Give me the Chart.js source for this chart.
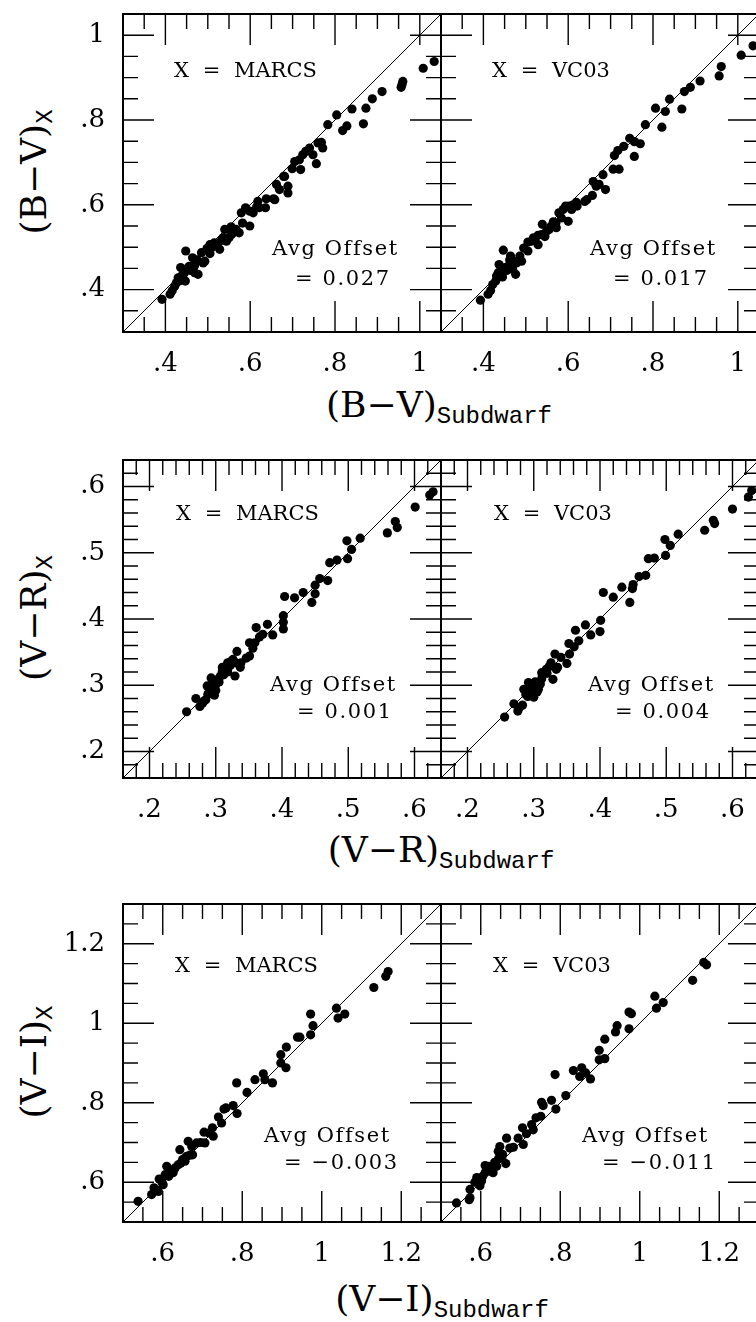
<!DOCTYPE html>
<html>
<head>
<meta charset="utf-8">
<script src="https://cdn.jsdelivr.net/npm/chart.js@4.4.0/dist/chart.umd.min.js"></script>
<style>
html, body { margin: 0; padding: 0; background: #fff; overflow: hidden; }
#fig { position: relative; width: 756px; height: 1322px; overflow: hidden; }
#fig canvas { position: absolute; }
.xt, .yt { position: absolute; font: 36px 'DejaVu Serif'; line-height: 1; white-space: nowrap; color: #000; }
.xt { transform: translateX(-50%); }
.yt { transform: translate(-50%, -50%) rotate(-90deg); }
.sub { font: 24px 'Liberation Mono'; position: relative; top: 6px; line-height: 0; }
</style>
</head>
<body>
<div id="fig">
  <div class="yt" style="left:34px; top:172px">(B&minus;V)<span class="sub">X</span></div>
  <div class="xt" style="left:439px; top:387px">(B&minus;V)<span class="sub">Subdwarf</span></div>
  <div class="yt" style="left:34px; top:618px">(V&minus;R)<span class="sub">X</span></div>
  <div class="xt" style="left:441px; top:832px">(V&minus;R)<span class="sub">Subdwarf</span></div>
  <div class="yt" style="left:34px; top:1062px">(V&minus;I)<span class="sub">X</span></div>
  <div class="xt" style="left:442px; top:1281px">(V&minus;I)<span class="sub">Subdwarf</span></div>
</div>
<script>
// model names (columns) and the average offsets printed in each panel
var models = ['MARCS', 'VC03'];
var avgOffsets = [[0.027, 0.017], [0.001, 0.004], [-0.003, -0.011]];

// axis ranges and labelled ticks for each colour index
var bvRange = [0.3, 1.05], bvTicks = [0.4, 0.6, 0.8, 1.0], bvMinor = 0.05;
var vrRange = [0.16, 0.64], vrTicks = [0.2, 0.3, 0.4, 0.5, 0.6], vrMinor = 0.02;
var viRange = [0.5, 1.3], viTicks = [0.6, 0.8, 1.0, 1.2], viMinor = 0.05;

// [subdwarf colour, synthetic colour]
var bvMarcs = [
  [.392,.377],[.411,.389],[.416,.397],[.422,.408],[.426,.416],[.432,.420],[.438,.432],[.442,.436],
  [.436,.452],[.447,.420],[.450,.448],[.456,.455],[.448,.491],[.464,.475],[.469,.440],[.477,.436],
  [.469,.457],[.485,.487],[.489,.463],[.493,.467],[.505,.506],[.509,.499],[.505,.485],[.520,.506],
  [.528,.495],[.532,.516],[.536,.522],[.540,.542],[.544,.514],[.550,.522],[.556,.530],[.561,.535],
  [.567,.542],[.574,.534],[.582,.557],[.579,.581],[.589,.593],[.599,.550],[.599,.585],[.607,.581],
  [.618,.608],[.621,.593],[.636,.593],[.638,.614],[.658,.612],[.662,.648],[.669,.636],[.679,.667],
  [.689,.644],[.689,.628],[.699,.685],[.705,.702],[.719,.683],[.716,.706],[.724,.718],[.731,.726],
  [.740,.734],[.748,.718],[.756,.697],[.760,.746],[.768,.747],[.771,.734],[.783,.789],[.804,.812],
  [.818,.775],[.828,.786],[.840,.826],[.867,.791],[.873,.828],[.888,.850],[.911,.867],[.956,.877],
  [.960,.891],[1.008,.922],[1.034,.938],
  [.430,.428],[.445,.440],[.460,.445],[.475,.470],[.498,.497],[.515,.510],[.555,.548],[.615,.595],
  [.655,.614],[.681,.667],[.958,.884]
];
var bvVc03 = [
  [.393,.375],[.411,.389],[.417,.398],[.422,.412],[.429,.420],[.431,.432],[.437,.459],[.443,.444],
  [.447,.493],[.451,.452],[.458,.455],[.464,.479],[.469,.448],[.476,.436],[.470,.467],[.478,.463],
  [.486,.479],[.490,.467],[.505,.512],[.513,.514],[.505,.491],[.521,.518],[.529,.506],[.529,.528],
  [.537,.530],[.539,.554],[.545,.525],[.549,.538],[.555,.542],[.560,.550],[.572,.546],[.571,.557],
  [.578,.581],[.584,.569],[.588,.589],[.594,.597],[.600,.561],[.602,.597],[.608,.589],[.619,.606],
  [.621,.597],[.639,.608],[.644,.612],[.657,.622],[.659,.655],[.666,.644],[.673,.648],[.688,.636],
  [.682,.671],[.706,.684],[.720,.684],[.709,.716],[.717,.728],[.731,.738],[.745,.757],[.756,.749],
  [.770,.744],[.756,.714],[.782,.789],[.806,.828],[.821,.783],[.829,.820],[.839,.849],[.868,.826],
  [.874,.867],[.888,.877],[.911,.892],[.956,.904],[.961,.926],[1.008,.953],[1.036,.975],
  [.435,.440],[.445,.430],[.455,.445],[.462,.470],[.495,.498],[.518,.522],[.565,.560],[.612,.600]
];
var vrMarcs = [
  [.256,.260],[.270,.280],[.276,.268],[.280,.273],[.285,.278],[.288,.286],[.287,.299],[.293,.311],
  [.293,.294],[.297,.304],[.300,.301],[.303,.309],[.307,.314],[.310,.321],[.310,.327],[.315,.326],
  [.318,.334],[.323,.336],[.326,.339],[.332,.351],[.329,.314],[.337,.327],[.338,.334],[.346,.341],
  [.351,.344],[.351,.364],[.356,.356],[.359,.364],[.361,.387],[.366,.373],[.371,.377],[.378,.392],
  [.386,.376],[.402,.395],[.402,.385],[.402,.405],[.404,.434],[.419,.432],[.432,.440],[.445,.425],
  [.450,.438],[.450,.451],[.457,.461],[.469,.458],[.472,.485],[.483,.489],[.499,.491],[.505,.505],
  [.498,.518],[.518,.522],[.559,.530],[.571,.547],[.574,.538],[.601,.569],[.623,.587],[.628,.592],
  [.290,.290],[.296,.298],[.300,.292],[.305,.305],[.312,.316],[.318,.320],[.322,.330],[.330,.334],
  [.298,.285],[.282,.276]
];
var vrVc03 = [
  [.256,.252],[.270,.272],[.276,.261],[.278,.266],[.283,.270],[.285,.294],[.291,.283],[.292,.304],
  [.295,.290],[.298,.296],[.301,.288],[.303,.299],[.307,.294],[.310,.302],[.312,.319],[.316,.319],
  [.319,.324],[.326,.334],[.329,.309],[.334,.324],[.332,.347],[.336,.327],[.341,.342],[.350,.333],
  [.354,.347],[.353,.363],[.361,.358],[.363,.383],[.368,.367],[.378,.391],[.386,.376],[.400,.381],
  [.401,.398],[.405,.440],[.420,.433],[.433,.448],[.445,.425],[.449,.446],[.450,.452],[.459,.464],
  [.469,.466],[.473,.491],[.482,.492],[.499,.496],[.506,.511],[.498,.520],[.518,.528],[.558,.534],
  [.571,.549],[.573,.544],[.600,.566],[.624,.584],[.629,.594],
  [.288,.286],[.296,.300],[.302,.305],[.305,.290],[.312,.310],[.320,.318],[.323,.328],[.300,.282]
];
var viMarcs = [
  [.538,.552],[.572,.569],[.578,.586],[.589,.577],[.591,.608],[.601,.594],[.606,.619],[.610,.640],
  [.618,.628],[.626,.624],[.631,.636],[.639,.644],[.643,.682],[.650,.657],[.656,.653],[.660,.665],
  [.664,.703],[.673,.690],[.675,.669],[.685,.699],[.704,.726],[.706,.699],[.717,.724],[.727,.716],
  [.725,.737],[.740,.764],[.748,.749],[.754,.784],[.759,.787],[.777,.793],[.787,.773],[.786,.850],
  [.812,.826],[.832,.858],[.853,.873],[.857,.858],[.876,.850],[.897,.900],[.897,.921],[.910,.888],
  [.911,.940],[.939,.965],[.945,.965],[.972,.971],[.972,1.023],[.978,.994],[1.037,1.038],[1.041,1.013],
  [1.058,1.023],[1.131,1.090],[1.161,1.118],[1.167,1.130],
  [.598,.600],[.615,.615],[.628,.632],[.645,.648],[.655,.660],[.668,.668],[.695,.700]
];
var viVc03 = [
  [.539,.548],[.571,.556],[.573,.561],[.573,.582],[.590,.612],[.598,.591],[.602,.603],[.611,.642],
  [.611,.624],[.623,.628],[.631,.624],[.640,.640],[.644,.678],[.648,.690],[.653,.661],[.663,.647],
  [.665,.711],[.673,.686],[.682,.688],[.694,.711],[.705,.737],[.707,.695],[.715,.722],[.728,.745],
  [.732,.732],[.739,.762],[.751,.766],[.753,.801],[.757,.793],[.778,.806],[.789,.784],[.787,.871],
  [.814,.818],[.833,.881],[.854,.888],[.849,.866],[.864,.875],[.876,.860],[.898,.908],[.898,.932],
  [.912,.911],[.912,.960],[.939,.978],[.943,.994],[.973,.986],[.973,1.028],[.979,1.024],[1.038,1.068],
  [1.042,1.038],[1.059,1.052],[1.133,1.108],[1.161,1.153],[1.168,1.147],
  [.585,.600],[.605,.615],[.620,.640],[.635,.650],[.655,.670],[.645,.660]
];

// layout of the figure, in page pixels
var PANEL = 318, AXIS_W = 123, AXIS_H = 60, PAD_T = 10, PAD_R = 10;
var rows = [
  { top: 14,  range: bvRange, ticks: bvTicks, minor: bvMinor, sets: [bvMarcs, bvVc03],
    text: { lx: 51, ly: 63, ax: 149, ay: 241, vx: 172, vy: 271 } },
  { top: 460, range: vrRange, ticks: vrTicks, minor: vrMinor, sets: [vrMarcs, vrVc03],
    text: { lx: 53, ly: 60, ax: 147, ay: 231, vx: 174, vy: 258 } },
  { top: 904, range: viRange, ticks: viTicks, minor: viMinor, sets: [viMarcs, viVc03],
    text: { lx: 52, ly: 68, ax: 141, ay: 238, vx: 161, vy: 265 } }
];

function tickLabel(v) {
  return String(+v.toFixed(2)).replace(/^0\./, '.');
}
function offsetLabel(v) {
  return '= ' + (v < 0 ? '\u2212' : '') + Math.abs(v).toFixed(3);
}

// box, inward tick marks on all four sides, and the panel annotations
var framePlugin = {
  id: 'frame',
  afterDraw: function (chart, args, o) {
    var ctx = chart.ctx, a = chart.chartArea;
    var sx = chart.scales.x, sy = chart.scales.y;
    ctx.save();
    ctx.strokeStyle = '#000';
    ctx.lineWidth = 1.4;
    var marks = function (len, vals) {
      vals.forEach(function (v) {
        var px = sx.getPixelForValue(v), py = sy.getPixelForValue(v);
        ctx.beginPath();
        ctx.moveTo(px, a.bottom); ctx.lineTo(px, a.bottom - len);
        ctx.moveTo(px, a.top); ctx.lineTo(px, a.top + len);
        ctx.moveTo(a.left, py); ctx.lineTo(a.left + len, py);
        ctx.moveTo(a.right, py); ctx.lineTo(a.right - len, py);
        ctx.stroke();
      });
    };
    var minor = [];
    for (var k = Math.ceil(o.min / o.step - 1e-6); k * o.step <= o.max + 1e-9; k++) {
      var v = +(k * o.step).toFixed(4);
      if (o.major.indexOf(v) < 0) minor.push(v);
    }
    marks(15, minor);
    marks(31, o.major);
    ctx.lineWidth = 2;
    ctx.strokeRect(a.left, a.top, a.width, a.height);

    ctx.fillStyle = '#000';
    ctx.font = "21px 'DejaVu Serif'";
    ctx.textAlign = 'left';
    ctx.textBaseline = 'alphabetic';
    ctx.wordSpacing = '7px';
    ctx.fillText('X = ' + o.model, a.left + o.t.lx, a.top + o.t.ly);
    ctx.wordSpacing = '0px';
    ctx.letterSpacing = '1.6px';
    ctx.fillText('Avg Offset', a.left + o.t.ax, a.top + o.t.ay);
    ctx.fillText(offsetLabel(o.offset), a.left + o.t.vx, a.top + o.t.vy);
    ctx.letterSpacing = '0px';
    ctx.restore();
  }
};

// keep the plot box fixed: tick labels may not push it inwards
function noLabelPadding(s) {
  s.paddingTop = 0; s.paddingBottom = 0; s.paddingLeft = 0; s.paddingRight = 0;
}

var fig = document.getElementById('fig');
var tickFont = { family: 'DejaVu Serif', size: 26 };

rows.forEach(function (row, r) {
  [0, 1].forEach(function (c) {
    var canvas = document.createElement('canvas');
    canvas.width = AXIS_W + PANEL + PAD_R;
    canvas.height = PAD_T + PANEL + AXIS_H;
    canvas.style.left = (c * PANEL) + 'px';
    canvas.style.top = (row.top - PAD_T) + 'px';
    fig.appendChild(canvas);

    var lo = row.range[0], hi = row.range[1];
    var setTicks = function (s) { s.ticks = row.ticks.map(function (v) { return { value: v }; }); };

    new Chart(canvas, {
      type: 'scatter',
      data: {
        datasets: [
          {
            data: row.sets[c].map(function (p) { return { x: p[0], y: p[1] }; }),
            pointRadius: 4.6,
            pointHoverRadius: 4.6,
            pointBackgroundColor: '#000',
            pointBorderWidth: 0
          },
          {
            data: [{ x: lo, y: lo }, { x: hi, y: hi }],
            showLine: true,
            borderColor: '#000',
            borderWidth: 1,
            pointRadius: 0
          }
        ]
      },
      options: {
        responsive: false,
        animation: false,
        events: [],
        layout: { padding: { left: 0, top: PAD_T, right: PAD_R, bottom: 0 } },
        plugins: {
          legend: { display: false },
          tooltip: { enabled: false },
          frame: {
            min: lo, max: hi, step: row.minor, major: row.ticks,
            model: models[c], offset: avgOffsets[r][c], t: row.text
          }
        },
        scales: {
          x: {
            type: 'linear', min: lo, max: hi,
            afterBuildTicks: setTicks,
            afterFit: function (s) { s.height = AXIS_H; noLabelPadding(s); },
            grid: { display: false, drawTicks: false },
            border: { display: false },
            ticks: { padding: 17, color: '#000', font: tickFont, maxRotation: 0, autoSkip: false,
                     callback: tickLabel }
          },
          y: {
            type: 'linear', min: lo, max: hi,
            afterBuildTicks: setTicks,
            afterFit: function (s) { s.width = AXIS_W; noLabelPadding(s); },
            grid: { display: false, drawTicks: false },
            border: { display: false },
            ticks: { display: c === 0, padding: 18, color: '#000', font: tickFont, autoSkip: false,
                     callback: tickLabel }
          }
        }
      },
      plugins: [framePlugin]
    });
  });
});
</script>
</body>
</html>
